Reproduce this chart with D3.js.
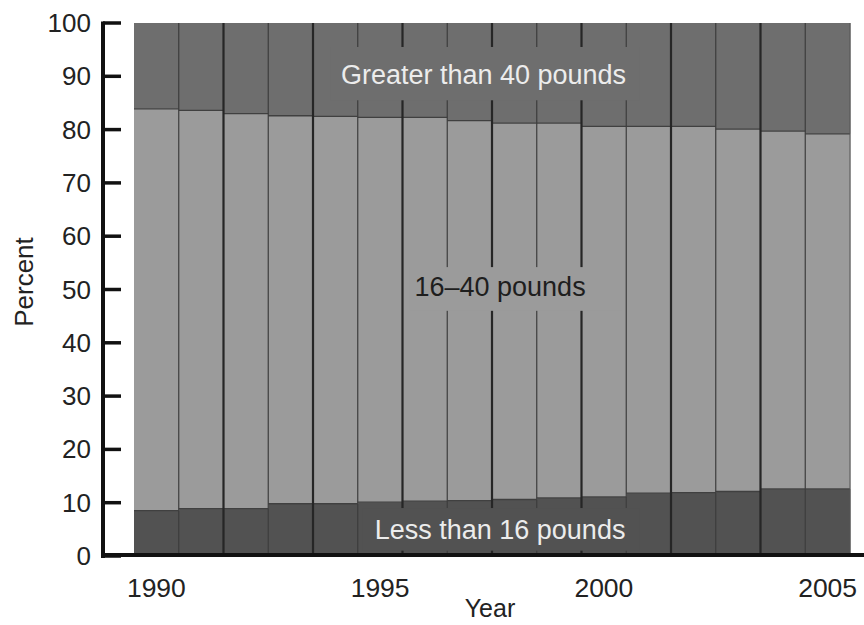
<!DOCTYPE html>
<html>
<head>
<meta charset="utf-8">
<script src="https://cdn.jsdelivr.net/npm/d3@7"></script>
<style>
  html, body { margin: 0; padding: 0; background: #fff; }
  svg { display: block; }
  text { font-family: "Liberation Sans", Arial, Helvetica, sans-serif; }
</style>
</head>
<body>
<svg id="chart" width="864" height="625"></svg>
<script>
// ---- Data (percent of total, by weight class) ----
const years = [1990, 1991, 1992, 1993, 1994, 1995, 1996, 1997, 1998, 1999, 2000, 2001, 2002, 2003, 2004, 2005];
const lessThan16 = [8.5, 8.9, 8.9, 9.8, 9.8, 10.1, 10.3, 10.4, 10.6, 10.9, 11.1, 11.8, 11.9, 12.1, 12.6, 12.6];
const from16to40 = [75.4, 74.7, 74.1, 72.8, 72.7, 72.2, 72.0, 71.3, 70.6, 70.3, 69.5, 68.8, 68.7, 68.0, 67.1, 66.6];
const greaterThan40 = [16.1, 16.4, 17.0, 17.4, 17.5, 17.7, 17.7, 18.3, 18.8, 18.8, 19.4, 19.4, 19.4, 19.9, 20.3, 20.8];
const seriesNames = ["Less than 16 pounds", "16\u201340 pounds", "Greater than 40 pounds"];
const yTicks = [0, 10, 20, 30, 40, 50, 60, 70, 80, 90, 100];
const xTickYears = [1990, 1995, 2000, 2005];

const colors = ["#525252", "#9b9b9b", "#6e6e6e"];
const labelColors = ["#ececec", "#1e1e1e", "#ececec"];

const table = years.map((y, i) => ({ year: y, s0: lessThan16[i], s1: from16to40[i], s2: greaterThan40[i] }));
const stacked = d3.stack().keys(["s0", "s1", "s2"])(table);

const svg = d3.select("#chart");
const x = d3.scaleBand().domain(years).range([134, 850]).padding(0);
const y = d3.scaleLinear().domain([0, 100]).range([556, 23]);

// ---- Bars ----
const gBars = svg.append("g");
stacked.forEach((layer, li) => {
  gBars.selectAll(null).data(layer).enter().append("rect")
    .attr("x", d => x(d.data.year))
    .attr("width", x.bandwidth() + 0.5)
    .attr("y", d => y(d[1]))
    .attr("height", d => y(d[0]) - y(d[1]))
    .attr("fill", colors[li]);
});

// horizontal segment boundaries
[0, 1].forEach(li => {
  gBars.selectAll(null).data(stacked[li]).enter().append("line")
    .attr("x1", d => x(d.data.year))
    .attr("x2", d => x(d.data.year) + x.bandwidth())
    .attr("y1", d => y(d[1]))
    .attr("y2", d => y(d[1]))
    .attr("stroke", "#404040")
    .attr("stroke-width", 1.3);
});

// vertical dividers between bars
const dividers = years.slice(1);
gBars.selectAll(null).data(dividers).enter().append("line")
  .attr("x1", d => x(d))
  .attr("x2", d => x(d))
  .attr("y1", y(100))
  .attr("y2", y(0))
  .attr("stroke", (d, i) => (i % 2 === 1 ? "#262626" : "#3c3c3c"))
  .attr("stroke-width", (d, i) => (i % 2 === 1 ? 2.2 : 1.2));
// right edge
gBars.append("line")
  .attr("x1", x(2005) + x.bandwidth()).attr("x2", x(2005) + x.bandwidth())
  .attr("y1", y(100)).attr("y2", y(0))
  .attr("stroke", "#555").attr("stroke-width", 1);

// ---- Segment labels with backgrounds that mask dividers ----
const bw = x.bandwidth();
const labels = [
  { li: 2, cx: x(1990) + 7.81 * bw, cy: y(90.2), x0: x(1994) + 0.4 * bw, x1: x(2001) + 0.3 * bw, top: y(95.5), bot: y(85.5) },
  { li: 1, cx: x(1990) + 8.18 * bw, cy: y(50.5), x0: x(1996) + 0.15 * bw, x1: x(2000) + 0.9 * bw, top: y(54.2), bot: y(46) },
  { li: 0, cx: x(1990) + 8.18 * bw, cy: y(4.9), x0: x(1995) + 0.1 * bw, x1: x(2001) + 0.3 * bw, top: y(9.0), bot: y(1) }
];
const gLab = svg.append("g");
labels.forEach(l => {
  gLab.append("rect")
    .attr("x", l.x0).attr("y", l.top)
    .attr("width", l.x1 - l.x0).attr("height", l.bot - l.top)
    .attr("fill", colors[l.li]);
  gLab.append("text")
    .attr("x", l.cx).attr("y", l.cy)
    .attr("text-anchor", "middle")
    .attr("dominant-baseline", "central")
    .attr("font-size", 27)
    .attr("fill", labelColors[l.li])
    .text(seriesNames[l.li]);
});

// ---- Axes ----
const gAx = svg.append("g");
// y axis line
gAx.append("line")
  .attr("x1", 103).attr("x2", 103)
  .attr("y1", y(100) - 1.5).attr("y2", y(0) + 2)
  .attr("stroke", "#111").attr("stroke-width", 4);
// y ticks
gAx.selectAll(null).data(yTicks).enter().append("line")
  .attr("x1", 103).attr("x2", 121)
  .attr("y1", d => y(d)).attr("y2", d => y(d))
  .attr("stroke", "#111").attr("stroke-width", 3.5);
gAx.selectAll(null).data(yTicks).enter().append("text")
  .attr("x", 91).attr("y", d => y(d))
  .attr("text-anchor", "end")
  .attr("dominant-baseline", "central")
  .attr("font-size", 26)
  .attr("fill", "#222")
  .text(d => d);
// x axis line
gAx.append("line")
  .attr("x1", 101).attr("x2", 864)
  .attr("y1", y(0) - 1).attr("y2", y(0) - 1)
  .attr("stroke", "#111").attr("stroke-width", 4);
// x tick labels
gAx.selectAll(null).data(xTickYears).enter().append("text")
  .attr("x", d => x(d) + bw / 2)
  .attr("y", 597)
  .attr("text-anchor", "middle")
  .attr("font-size", 26.5)
  .attr("fill", "#222")
  .text(d => d);
// axis titles
gAx.append("text")
  .attr("x", 490).attr("y", 617)
  .attr("text-anchor", "middle")
  .attr("font-size", 25)
  .attr("fill", "#222")
  .text("Year");
gAx.append("text")
  .attr("transform", "translate(33,282) rotate(-90)")
  .attr("text-anchor", "middle")
  .attr("font-size", 26)
  .attr("fill", "#222")
  .text("Percent");
</script>
</body>
</html>
